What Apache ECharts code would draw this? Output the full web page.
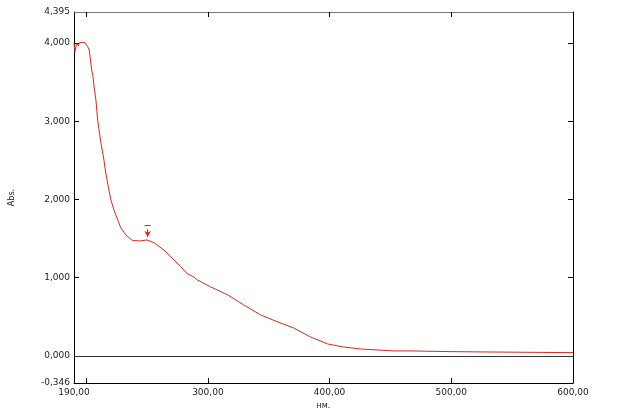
<!DOCTYPE html>
<html>
<head>
<meta charset="utf-8">
<script src="https://cdn.jsdelivr.net/npm/echarts@6/dist/echarts.min.js"></script>
<style>
html,body{margin:0;padding:0;background:#fff;}
#c{width:621px;height:416px;}
</style>
</head>
<body>
<div id="c"></div>
<script>
// Spectrum data (wavelength nm, absorbance)
const wavelengths = [190.0, 190.8, 191.6, 192.5, 193.5, 194.7, 195.7, 196.8, 198.0, 199.0, 200.1, 201.2, 202.5, 203.4, 204.5, 205.6, 206.6, 208.0, 209.4, 212.1, 214.6, 215.7, 217.9, 220.3, 222.8, 225.3, 228.5, 232.6, 238.1, 244.9, 249.9, 251.0, 255.6, 263.8, 272.0, 277.7, 283.2, 288.4, 291.4, 302.3, 316.3, 329.4, 343.3, 357.3, 370.4, 384.3, 398.3, 411.4, 425.3, 452.4, 466.3, 480.0, 500.0, 525.0, 550.0, 575.0, 600.0];
const absorbance  = [3.996, 3.889, 3.953, 3.996, 3.962, 4.004, 3.983, 4.004, 3.987, 4.004, 3.983, 3.953, 3.911, 3.889, 3.655, 3.569, 3.425, 3.272, 3.016, 2.722, 2.505, 2.377, 2.185, 1.994, 1.866, 1.764, 1.636, 1.546, 1.474, 1.470, 1.482, 1.505, 1.448, 1.355, 1.227, 1.141, 1.048, 1.010, 0.971, 0.882, 0.780, 0.652, 0.524, 0.435, 0.358, 0.243, 0.153, 0.115, 0.089, 0.064, 0.064, 0.060, 0.055, 0.051, 0.048, 0.045, 0.042];

// Axis settings
const xMin = 190, xMax = 600;
const yMin = -0.346, yMax = 4.395;
const xLabelValues = [190, 300, 400, 500, 600];
const xTickValues = [200, 300, 400, 500, 600];
const yLabelValues = [-0.346, 0, 1, 2, 3, 4, 4.395];
const yTickValues = [0, 1, 2, 3, 4];

// Peak pick annotation
const peakNm = [250.5];
const peakMarkTop = [1.665];
const peakArrowFrom = [1.62];
const peakArrowTo = [1.52];

const seriesData = wavelengths.map((w, i) => [w, absorbance[i]]);
const fmtY = v => v.toFixed(3).replace('.', ',');
const fmtX = v => v.toFixed(2).replace('.', ',');
const labelFont = {fontFamily: 'DejaVu Sans', fontSize: 9, color: '#222'};

const chart = echarts.init(document.getElementById('c'), null, {renderer: 'canvas'});
chart.setOption({
  backgroundColor: '#fff',
  animation: false,
  grid: {left: 73, right: 48, top: 12, bottom: 33, containLabel: false},
  xAxis: [{
    type: 'value', min: xMin, max: xMax, position: 'bottom',
    name: 'нм.', nameLocation: 'middle', nameGap: 17,
    nameTextStyle: {fontFamily: 'DejaVu Sans', fontSize: 8, color: '#222'},
    axisLine: {show: true, onZero: false, lineStyle: {color: '#000', width: 1}},
    axisTick: {show: true, inside: true, length: 5, customValues: xTickValues, lineStyle: {color: '#000'}},
    axisLabel: Object.assign({customValues: xLabelValues, formatter: fmtX, margin: 5}, labelFont),
    splitLine: {show: false}
  }, {
    type: 'value', min: xMin, max: xMax, position: 'top',
    axisLine: {show: true, onZero: false, lineStyle: {color: '#777', width: 1}},
    axisTick: {show: true, inside: true, length: 5, customValues: xTickValues, lineStyle: {color: '#000'}},
    axisLabel: {show: false},
    splitLine: {show: false}
  }],
  yAxis: [{
    type: 'value', min: yMin, max: yMax, position: 'left',
    name: 'Abs.', nameLocation: 'middle', nameGap: 58, nameRotate: 90,
    nameTextStyle: {fontFamily: 'DejaVu Sans', fontSize: 8, color: '#222'},
    axisLine: {show: true, onZero: false, lineStyle: {color: '#000', width: 1}},
    axisTick: {show: true, inside: true, length: 5, customValues: yTickValues, lineStyle: {color: '#000'}},
    axisLabel: Object.assign({customValues: yLabelValues, formatter: fmtY, margin: 4}, labelFont),
    splitLine: {show: false}
  }, {
    type: 'value', min: yMin, max: yMax, position: 'right',
    axisLine: {show: true, onZero: false, lineStyle: {color: '#000', width: 1}},
    axisTick: {show: true, inside: true, length: 5, customValues: yTickValues, lineStyle: {color: '#000'}},
    axisLabel: {show: false},
    splitLine: {show: false}
  }],
  series: [{
    type: 'line',
    data: seriesData,
    xAxisIndex: 0, yAxisIndex: 0,
    showSymbol: false,
    smooth: false,
    lineStyle: {color: '#d42a1e', width: 1},
    z: 3,
    markLine: {
      silent: true,
      animation: false,
      label: {show: false},
      data: [
        [{coord: [xMin, 0], symbol: 'none', lineStyle: {color: '#333', width: 1, type: 'solid'}},
         {coord: [xMax, 0], symbol: 'none'}],
        [{coord: [peakNm[0] - 2.5, peakMarkTop[0]], symbol: 'none', lineStyle: {color: '#d42a1e', width: 1, type: 'solid'}},
         {coord: [peakNm[0] + 2.5, peakMarkTop[0]], symbol: 'none'}],
        [{coord: [peakNm[0], peakArrowFrom[0]], symbol: 'none', lineStyle: {color: '#d42a1e', width: 1, type: 'solid'}},
         {coord: [peakNm[0], peakArrowTo[0]], symbol: 'arrow', symbolSize: [5, 6]}]
      ]
    }
  }]
});
</script>
</body>
</html>
